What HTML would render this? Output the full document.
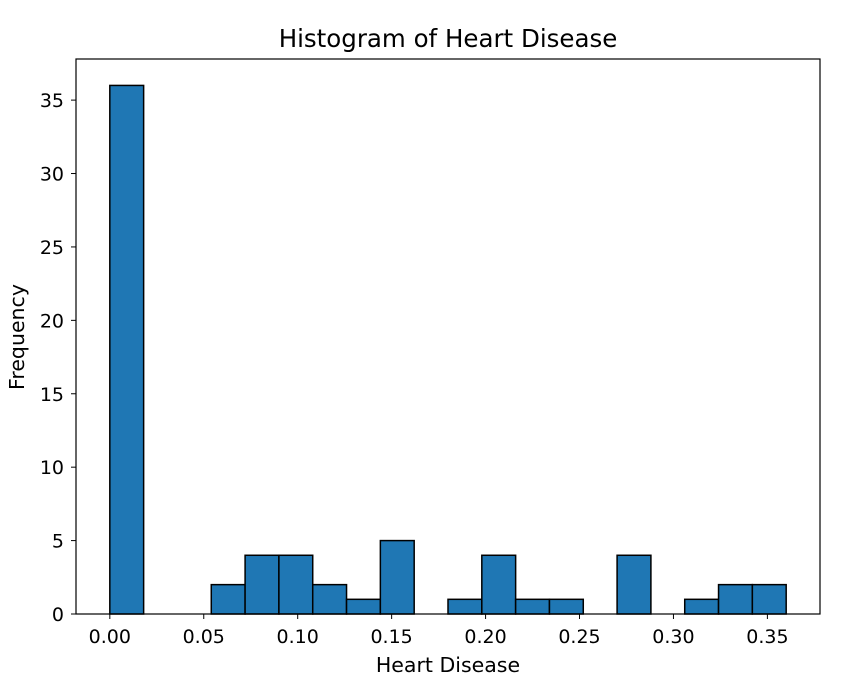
<!DOCTYPE html>
<html><head><meta charset="utf-8"><style>
html,body{margin:0;padding:0;background:#fff;}
svg text{font-family:"DejaVu Sans","Liberation Sans",sans-serif;fill:#000;}
</style></head><body>
<svg id="chart" width="866" height="685" viewBox="0 0 866 685" xmlns="http://www.w3.org/2000/svg">
<rect width="866" height="685" fill="#fff"/>
<text x="448" y="47" font-size="24.5" text-anchor="middle">Histogram of Heart Disease</text>
<g id="bars"></g>
<g id="xticks"></g>
<g id="yticks"></g>
<rect x="76" y="59" width="744" height="555" fill="none" stroke="#000" stroke-width="1.2"/>
<text x="448" y="672" font-size="20.5" text-anchor="middle">Heart Disease</text>
<text x="17" y="337" font-size="20.5" text-anchor="middle" dominant-baseline="central" transform="rotate(-90 17 337)">Frequency</text>
</svg>
<script>
const binStart = 0;
const binEnd = 0.36;
const counts = [36,0,0,2,4,4,2,1,5,0,1,4,1,1,0,4,0,1,2,2];
const xTickValues = [0,0.05,0.1,0.15,0.2,0.25,0.3,0.35];
const xTickLabels = ["0.00","0.05","0.10","0.15","0.20","0.25","0.30","0.35"];
const yTickValues = [0,5,10,15,20,25,30,35];

const NS="http://www.w3.org/2000/svg";
const L=76,R=820,T=59,B=614;
const xMin=-0.018,xMax=0.378,yMax=37.8;
const xs=v=>L+(v-xMin)/(xMax-xMin)*(R-L);
const ys=v=>B-v/yMax*(B-T);
function mk(tag,attrs,parent){const e=document.createElementNS(NS,tag);for(const k in attrs)e.setAttribute(k,attrs[k]);parent.appendChild(e);return e;}
const bars=document.getElementById('bars');
const w=(binEnd-binStart)/counts.length;
counts.forEach((c,i)=>{
  if(c<=0)return;
  const x0=xs(binStart+i*w),x1=xs(binStart+(i+1)*w);
  const r=mk('rect',{x:x0,y:ys(c),width:x1-x0,height:ys(0)-ys(c),fill:'#1f77b4',stroke:'#000','stroke-width':1.5},bars);
  
  
});
const xt=document.getElementById('xticks');
xTickValues.forEach((v,i)=>{
  const x=xs(v);
  mk('line',{x1:x,x2:x,y1:B,y2:B+5,stroke:'#000','stroke-width':1},xt);
  const t=mk('text',{x:x,y:B+29,'font-size':19,'text-anchor':'middle'},xt);
  t.textContent=xTickLabels[i];
  
  
});
const yt=document.getElementById('yticks');
yTickValues.forEach(v=>{
  const y=ys(v);
  mk('line',{x1:L-5,x2:L,y1:y,y2:y,stroke:'#000','stroke-width':1},yt);
  const t=mk('text',{x:L-12,y:y+7,'font-size':19,'text-anchor':'end'},yt);
  t.textContent=String(v);
  
  
});
</script>
</body></html>
